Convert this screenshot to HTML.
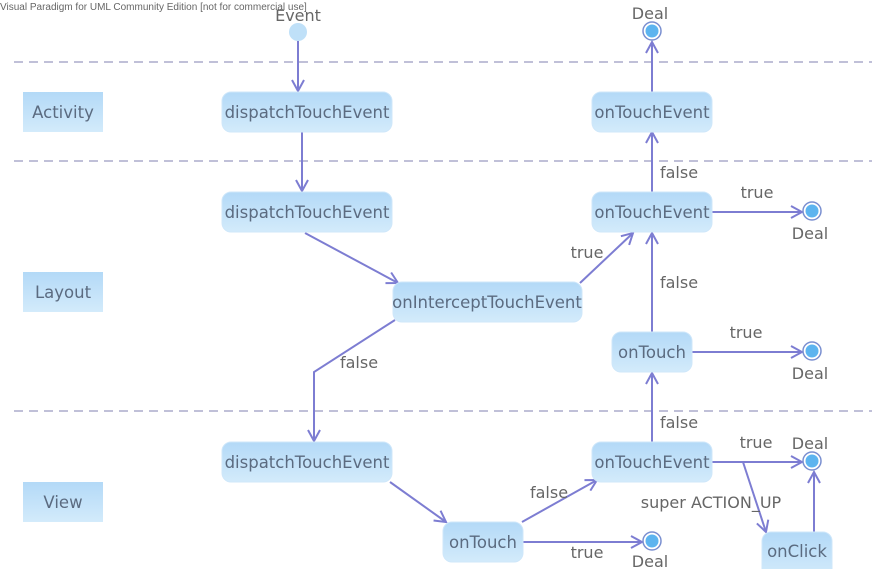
<!DOCTYPE html>
<html><head><meta charset="utf-8"><style>
html,body{margin:0;padding:0;background:#fff;}
svg{display:block;font-family:"DejaVu Sans","Liberation Sans",sans-serif;}
.n{fill:url(#g);stroke:#cfe7fa;stroke-width:1}
.t{fill:#5b6b80;font-size:16.5px;text-anchor:middle}
.l{fill:#666;font-size:16px;text-anchor:middle}
.e{stroke:#7d7dd2;stroke-width:2;fill:none}
.d{stroke:#8080b0;stroke-width:1;stroke-dasharray:9 6}
</style></head><body>
<svg width="884" height="569" viewBox="0 0 884 569">
<defs>
<linearGradient id="g" x1="0" y1="0" x2="0" y2="1"><stop offset="0" stop-color="#b3d9f7"/><stop offset="1" stop-color="#d3ebfb"/></linearGradient>
<marker id="a" markerWidth="14" markerHeight="14" refX="12" refY="7" orient="auto" markerUnits="userSpaceOnUse"><path d="M1,1 L12,7 L1,13" fill="none" stroke="#7d7dd2" stroke-width="2"/></marker>
<g id="f"><circle r="9" fill="#fff" stroke="#7a8fd0" stroke-width="1.5"/><circle r="6.5" fill="#5db4ef"/></g>
</defs>
<text x="0" y="10" font-size="10" fill="#666" font-family="Liberation Sans,sans-serif">Visual Paradigm for UML Community Edition [not for commercial use]</text>
<line class="d" x1="14" y1="62" x2="872" y2="62"/>
<line class="d" x1="14" y1="161" x2="872" y2="161"/>
<line class="d" x1="14" y1="411" x2="872" y2="411"/>
<rect x="23" y="92" width="80" height="40" fill="url(#g)"/><text class="t" x="63" y="118">Activity</text>
<rect x="23" y="272" width="80" height="40" fill="url(#g)"/><text class="t" x="63" y="298">Layout</text>
<rect x="23" y="482" width="80" height="40" fill="url(#g)"/><text class="t" x="63" y="508">View</text>
<circle cx="298" cy="32" r="9" fill="#bfe0f8"/><text class="l" x="298" y="21">Event</text>
<path class="e" d="M298,41 L298,91" marker-end="url(#a)"/>
<path class="e" d="M302,132 L302,191" marker-end="url(#a)"/>
<path class="e" d="M305,233 L398,283" marker-end="url(#a)"/>
<path class="e" d="M395,320 L314,372 L314,441" marker-end="url(#a)"/>
<path class="e" d="M390,482 L446,522" marker-end="url(#a)"/>
<path class="e" d="M522,522 L597,480" marker-end="url(#a)"/>
<path class="e" d="M522,542 L642,542" marker-end="url(#a)"/>
<path class="e" d="M652,442 L652,373" marker-end="url(#a)"/>
<path class="e" d="M652,332 L652,233" marker-end="url(#a)"/>
<path class="e" d="M692,352 L802,352" marker-end="url(#a)"/>
<path class="e" d="M712,212 L802,212" marker-end="url(#a)"/>
<path class="e" d="M580,283 L633,233" marker-end="url(#a)"/>
<path class="e" d="M652,192 L652,132" marker-end="url(#a)"/>
<path class="e" d="M652,92 L652,42" marker-end="url(#a)"/>
<path class="e" d="M712,462 L802,462" marker-end="url(#a)"/>
<path class="e" d="M743,462 L766,532" marker-end="url(#a)"/>
<path class="e" d="M814,532 L814,472" marker-end="url(#a)"/>
<rect class="n" x="222" y="92" width="170" height="40" rx="9"/><text class="t" x="307" y="118">dispatchTouchEvent</text>
<rect class="n" x="222" y="192" width="170" height="40" rx="9"/><text class="t" x="307" y="218">dispatchTouchEvent</text>
<rect class="n" x="393" y="282" width="189" height="40" rx="9"/><text class="t" x="487" y="308">onInterceptTouchEvent</text>
<rect class="n" x="222" y="442" width="170" height="40" rx="9"/><text class="t" x="307" y="468">dispatchTouchEvent</text>
<rect class="n" x="443" y="522" width="80" height="40" rx="9"/><text class="t" x="483" y="548">onTouch</text>
<rect class="n" x="592" y="442" width="120" height="40" rx="9"/><text class="t" x="652" y="468">onTouchEvent</text>
<rect class="n" x="612" y="332" width="80" height="40" rx="9"/><text class="t" x="652" y="358">onTouch</text>
<rect class="n" x="592" y="192" width="120" height="40" rx="9"/><text class="t" x="652" y="218">onTouchEvent</text>
<rect class="n" x="592" y="92" width="120" height="40" rx="9"/><text class="t" x="652" y="118">onTouchEvent</text>
<rect class="n" x="762" y="532" width="70" height="45" rx="9"/><text class="t" x="797" y="557">onClick</text>
<use href="#f" x="652" y="31"/><text class="l" x="650" y="19">Deal</text>
<use href="#f" x="812" y="211"/><text class="l" x="810" y="239">Deal</text>
<use href="#f" x="812" y="351"/><text class="l" x="810" y="379">Deal</text>
<use href="#f" x="812" y="461"/><text class="l" x="810" y="449">Deal</text>
<use href="#f" x="652" y="541"/><text class="l" x="650" y="567">Deal</text>
<text class="l" x="359" y="368">false</text>
<text class="l" x="549" y="498">false</text>
<text class="l" x="587" y="558">true</text>
<text class="l" x="679" y="428">false</text>
<text class="l" x="679" y="288">false</text>
<text class="l" x="746" y="338">true</text>
<text class="l" x="757" y="198">true</text>
<text class="l" x="587" y="258">true</text>
<text class="l" x="679" y="178">false</text>
<text class="l" x="756" y="448">true</text>
<text class="l" x="711" y="508">super ACTION_UP</text>
</svg>
</body></html>
